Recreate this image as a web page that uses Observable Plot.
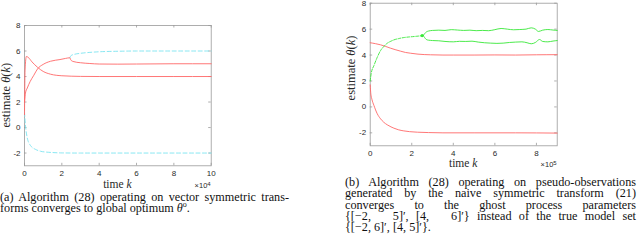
<!DOCTYPE html>
<html><head><meta charset="utf-8">
<script src="https://cdn.jsdelivr.net/npm/d3@7"></script>
<script src="https://cdn.jsdelivr.net/npm/@observablehq/plot@0.6"></script>
<style>
body{margin:0;background:#fff;}
#wrap{position:relative;width:640px;height:248px;overflow:hidden;background:#fff;}
.panel{position:absolute;top:0;}
.cap{position:absolute;font-family:"Liberation Serif","Times New Roman","DejaVu Serif",serif;font-size:12.2px;line-height:11.3px;color:#111;}
.j{text-align:justify;text-align-last:justify;}
</style>
</head><body>
<div id="wrap">
  <div id="pa" class="panel" style="left:0px"></div>
  <div id="pb" class="panel" style="left:320px"></div>
  <div class="cap" style="left:0px;top:192px;">
    <div class="j" style="width:289px">(a) Algorithm (28) operating on vector symmetric trans-</div>
    <div>forms converges to global optimum <i>θ</i><sup style="font-size:8px;line-height:0">o</sup>.</div>
  </div>
  <div class="cap" style="left:345px;top:177px;">
    <div class="j" style="width:291px">(b) Algorithm (28) operating on pseudo-observations</div>
    <div class="j" style="width:291px">generated by the naive symmetric transform (21)</div>
    <div class="j" style="width:291px">converges to the ghost process parameters</div>
    <div class="j" style="width:291px">{[−2,&nbsp;&nbsp;&nbsp;5]′, [4,&nbsp;&nbsp;&nbsp;6]′} instead of the true model set</div>
    <div>{[−2, 6]′, [4, 5]′}.</div>
  </div>
</div>
<script>
// ---------- data: panel (a), k in units of 1e4 ----------
const xTicksA = [0, 2, 4, 6, 8, 10];
const yTicks = [-2, 0, 2, 4, 6, 8];
const redPeakA = [[0,1.0],[0.03,4.5],[0.1,5.57],[0.2,5.5],[0.4,5.15],[0.7,4.72],[1.0,4.4],[1.4,4.18],[2.0,4.06],[3.0,4.01],[4,4.0],[6,4.0],[8,4.0],[10,4.0]];
const redRiseA = [[0,2.0],[0.05,2.7],[0.15,3.1],[0.3,3.6],[0.5,4.1],[0.7,4.6],[1.0,4.95],[1.4,5.2],[1.9,5.33],[2.2,5.42],[2.43,5.47],[2.48,5.3],[2.6,5.18],[3.0,5.08],[3.5,5.02],[4,4.98],[5,4.97],[6,4.98],[8,5.0],[10,5.0]];
const cyanHighA = [[2.43,5.47],[2.5,5.65],[2.7,5.75],[3.0,5.82],[3.4,5.88],[4,5.94],[5,5.98],[6,6.0],[8,6.0],[10,6.0]];
const cyanLowA = [[0,1.2],[0.05,0.2],[0.14,-0.76],[0.32,-1.41],[0.6,-1.72],[0.86,-1.86],[1.2,-1.93],[1.5,-1.96],[2,-1.99],[3,-2],[4,-2],[6,-2],[8,-2],[10,-2]];

// ---------- data: panel (b), k in units of 1e5 ----------
const xTicksB = [0, 2, 4, 6, 8];
const redUpperB = [[0,4.95],[0.25,4.88],[0.5,4.79],[0.75,4.66],[0.98,4.53],[1.2,4.42],[1.46,4.3],[1.7,4.2],[1.95,4.14],[2.3,4.07],[2.9,4.02],[3.5,4.0],[4,4.0],[5,4.0],[6,4.01],[7,4.0],[8,4.02],[9,4.03]];
const redLowerB = [[0,1.7],[0.03,1.0],[0.08,0.6],[0.18,0.11],[0.34,-0.53],[0.5,-0.92],[0.65,-1.18],[0.82,-1.38],[1.0,-1.54],[1.14,-1.64],[1.35,-1.76],[1.62,-1.85],[1.9,-1.91],[2.27,-1.95],[2.8,-1.98],[3.5,-2.0],[5,-2.0],[7,-2.0],[9,-2.02]];
const ghostRiseB = [[0,2.0],[0.05,2.6],[0.18,3.19],[0.34,3.83],[0.5,4.35],[0.65,4.65],[0.82,4.91],[1.0,5.07],[1.14,5.17],[1.4,5.28],[1.62,5.35],[1.9,5.4],[2.11,5.43],[2.3,5.46],[2.55,5.5]];
const ghostUpperB = [[2.55,5.5],[2.62,5.65],[2.7,5.78],[2.8,5.85],[3.0,5.9],[3.3,5.92],[3.6,5.9],[3.9,5.96],[4.2,5.93],[4.5,5.9],[4.8,5.92],[5.1,5.88],[5.4,5.9],[5.7,5.88],[6.0,5.96],[6.3,6.05],[6.6,6.0],[6.9,5.95],[7.2,5.97],[7.5,6.0],[7.75,6.1],[7.95,6.0],[8.1,5.82],[8.3,5.92],[8.55,5.97],[8.8,5.93],[9.0,5.9]];
const ghostLowerB = [[2.55,5.5],[2.62,5.35],[2.7,5.2],[2.8,5.15],[3.0,5.12],[3.3,5.1],[3.6,5.05],[4.0,5.02],[4.3,5.06],[4.6,5.05],[4.9,5.07],[5.2,5.0],[5.5,4.95],[5.8,4.92],[6.1,4.9],[6.4,4.92],[6.7,4.97],[7.0,5.0],[7.3,5.02],[7.55,4.95],[7.75,4.87],[7.95,4.97],[8.15,5.2],[8.3,5.05],[8.55,5.02],[8.8,5.08],[9.0,5.12]];
const ghostSplitB = [[2.5,5.5]];

const RED = "#ff6868", CYAN = "#7ae4f0", GREEN = "#38e838", FRAME = "#9a9a9a";

function panel(el, cfg) {
  const {width, height, mL, mR, mT, mB, xMax, xTicks, series, dots, expo, ylabDx, ylabDy, tlabDy, expDy} = cfg;
  const plotH = height - mT - mB, plotW = width - mL - mR;
  const tk = 2.5;
  const marks = [
    Plot.frame({stroke: FRAME, strokeWidth: 0.8}),
    Plot.ruleX(xTicks, {x: d => d, insetTop: plotH - tk, stroke: FRAME, strokeWidth: 0.8}),
    Plot.ruleX(xTicks, {x: d => d, insetBottom: plotH - tk, stroke: FRAME, strokeWidth: 0.8}),
    Plot.ruleY(yTicks, {y: d => d, insetRight: plotW - tk, stroke: FRAME, strokeWidth: 0.8}),
    Plot.ruleY(yTicks, {y: d => d, insetLeft: plotW - tk, stroke: FRAME, strokeWidth: 0.8}),
    Plot.axisX({ticks: xTicks, tickSize: 0, tickPadding: 4.5, label: null, tickFormat: d => String(d)}),
    Plot.axisY({ticks: yTicks, tickSize: 0, tickPadding: 4, label: null, tickFormat: d => String(d)}),
    ...series.map(s => Plot.line(s.data, {x: d => d[0], y: d => d[1], stroke: s.color, strokeWidth: s.w || 0.9, strokeDasharray: s.dash || null, curve: "monotone-x"})),
    ...(dots || []).map(s => Plot.dot(s.data, {x: d => d[0], y: d => d[1], fill: s.color, r: 1.6}))
  ];
  const svg = Plot.plot({
    width, height, marginLeft: mL, marginRight: mR, marginTop: mT, marginBottom: mB,
    x: {domain: [0, xMax]}, y: {domain: [-3, 8]},
    style: {fontFamily: "'Liberation Sans', Arial, sans-serif", fontSize: "8px", color: "#2a2a2a", background: "transparent", overflow: "visible"},
    marks
  });
  const s = d3.select(svg);
  const serif = "Liberation Serif, Times New Roman, DejaVu Serif, serif";
  // x label
  const xl = s.append("text").attr("x", mL + plotW / 2).attr("y", mT + plotH + tlabDy)
    .attr("text-anchor", "middle").attr("dominant-baseline", "middle")
    .attr("font-family", serif).attr("font-size", 11.5).attr("fill", "#2a2a2a");
  xl.append("tspan").text("time ");
  xl.append("tspan").attr("font-style", "italic").text("k");
  // y label
  const cx = mL + ylabDx, cy = mT + plotH / 2 + ylabDy;
  const yl = s.append("text").attr("transform", `translate(${cx},${cy}) rotate(-90)`)
    .attr("text-anchor", "middle").attr("dominant-baseline", "middle")
    .attr("font-family", serif).attr("font-size", 12.5).attr("fill", "#2a2a2a");
  yl.append("tspan").text("estimate ");
  yl.append("tspan").attr("font-style", "italic").text("θ");
  yl.append("tspan").text("(");
  yl.append("tspan").attr("font-style", "italic").text("k");
  yl.append("tspan").text(")");
  // exponent
  const ex = s.append("text").attr("x", mL + plotW).attr("y", mT + plotH + expDy)
    .attr("text-anchor", "end").attr("dominant-baseline", "middle")
    .attr("font-family", "'Liberation Sans', Arial, sans-serif").attr("font-size", 7.5).attr("fill", "#2a2a2a");
  ex.append("tspan").text("×10");
  ex.append("tspan").attr("dy", -2.5).attr("font-size", 6).text(String(expo));
  el.appendChild(svg);
}

panel(document.getElementById("pa"), {
  width: 320, height: 195, mL: 24, mR: 109.3, mT: 25, mB: 29.7, xMax: 10, xTicks: xTicksA, expo: 4,
  ylabDx: -17.3, ylabDy: 0, tlabDy: 19.5, expDy: 20.8,
  series: [
    {data: cyanLowA, color: CYAN, dash: "4,2.5"},
    {data: cyanHighA, color: CYAN, dash: "4,2.5"},
    {data: redPeakA, color: RED},
    {data: redRiseA, color: RED}
  ]
});

panel(document.getElementById("pb"), {
  width: 320, height: 170, mL: 49.7, mR: 83.3, mT: 2.7, mB: 24.7, xMax: 9, xTicks: xTicksB, expo: 5,
  ylabDx: -18, ylabDy: -6, tlabDy: 18.5, expDy: 20,
  series: [
    {data: redUpperB, color: RED},
    {data: redLowerB, color: RED},
    {data: ghostRiseB, color: GREEN, dash: "3,1.5"},
    {data: ghostUpperB, color: GREEN},
    {data: ghostLowerB, color: GREEN}
  ],
  dots: [{data: ghostSplitB, color: GREEN}]
});
</script>
</body></html>
